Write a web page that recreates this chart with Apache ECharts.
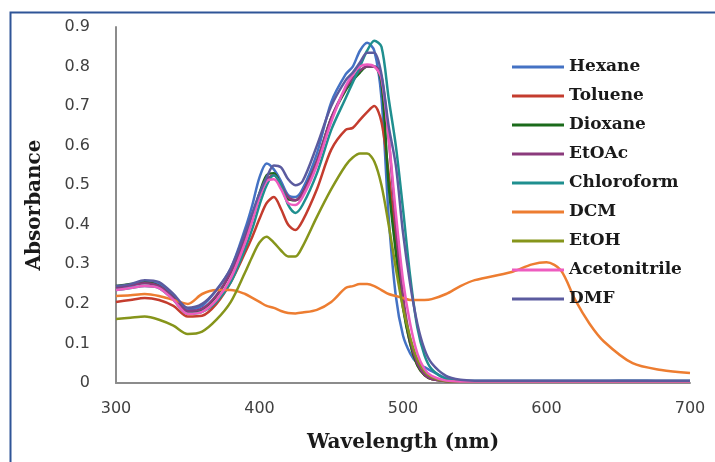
<!DOCTYPE html>
<html lang="en">
<head>
    <meta charset="UTF-8">
    <title>Absorbance spectra</title>
    <script src="https://cdn.jsdelivr.net/npm/echarts@6/dist/echarts.min.js"></script>
    <style>
        html, body { margin: 0; padding: 0; background: #fff; }
        #main { width: 715px; height: 462px; }
    </style>
</head>
<body>
    <div id="main"></div>
    <script>
        // wavelength grid (nm), shared by every solvent
        var wavelengths = [300, 310, 320, 330, 340, 350, 360, 370, 380, 390, 395, 400, 405, 410, 415, 420, 425, 430, 440, 450,
            460, 465, 470, 475, 480, 485, 490, 495, 500, 505, 510, 515, 520, 530, 540, 550, 575, 590, 600, 610,
            620, 630, 640, 660, 680, 700];

        var hexane = [0.240, 0.245, 0.255, 0.250, 0.220, 0.185, 0.195, 0.235, 0.290, 0.390, 0.450, 0.520, 0.555, 0.540, 0.510, 0.475, 0.470, 0.490, 0.580, 0.710,
            0.780, 0.800, 0.840, 0.860, 0.840, 0.720, 0.420, 0.220, 0.120, 0.075, 0.050, 0.040, 0.030, 0.012, 0.006, 0.005, 0.005, 0.005, 0.005, 0.005,
            0.005, 0.005, 0.005, 0.006, 0.005, 0.005];
        var toluene = [0.205, 0.210, 0.215, 0.210, 0.195, 0.168, 0.170, 0.200, 0.255, 0.330, 0.370, 0.415, 0.455, 0.470, 0.440, 0.400, 0.387, 0.410, 0.490, 0.590,
            0.640, 0.645, 0.665, 0.685, 0.700, 0.660, 0.530, 0.360, 0.200, 0.100, 0.045, 0.020, 0.010, 0.005, 0.004, 0.004, 0.004, 0.004, 0.004, 0.004,
            0.004, 0.004, 0.004, 0.004, 0.004, 0.004];
        var dioxane = [0.245, 0.250, 0.255, 0.245, 0.215, 0.180, 0.185, 0.220, 0.280, 0.370, 0.420, 0.480, 0.525, 0.530, 0.500, 0.465, 0.462, 0.480, 0.560, 0.670,
            0.740, 0.765, 0.785, 0.800, 0.800, 0.760, 0.500, 0.330, 0.190, 0.100, 0.045, 0.020, 0.010, 0.005, 0.004, 0.004, 0.004, 0.004, 0.004, 0.004,
            0.004, 0.004, 0.004, 0.004, 0.004, 0.004];
        var etoac = [0.240, 0.248, 0.252, 0.245, 0.215, 0.182, 0.188, 0.222, 0.280, 0.365, 0.415, 0.470, 0.515, 0.525, 0.500, 0.470, 0.462, 0.480, 0.560, 0.670,
            0.745, 0.770, 0.790, 0.800, 0.800, 0.775, 0.620, 0.400, 0.220, 0.110, 0.050, 0.022, 0.010, 0.005, 0.004, 0.004, 0.004, 0.004, 0.004, 0.004,
            0.004, 0.004, 0.004, 0.004, 0.004, 0.004];
        var chloroform = [0.235, 0.240, 0.245, 0.240, 0.210, 0.175, 0.180, 0.205, 0.255, 0.340, 0.390, 0.450, 0.500, 0.525, 0.500, 0.450, 0.430, 0.450, 0.530, 0.640,
            0.720, 0.760, 0.800, 0.840, 0.865, 0.850, 0.720, 0.600, 0.440, 0.270, 0.140, 0.070, 0.035, 0.010, 0.006, 0.005, 0.005, 0.005, 0.005, 0.005,
            0.005, 0.005, 0.005, 0.005, 0.005, 0.005];
        var dcm = [0.220, 0.222, 0.225, 0.220, 0.210, 0.200, 0.225, 0.235, 0.235, 0.225, 0.215, 0.205, 0.195, 0.190, 0.182, 0.177, 0.176, 0.178, 0.185, 0.205,
            0.240, 0.245, 0.250, 0.250, 0.245, 0.235, 0.225, 0.220, 0.215, 0.210, 0.210, 0.210, 0.212, 0.225, 0.245, 0.260, 0.280, 0.300, 0.305, 0.285,
            0.210, 0.150, 0.105, 0.050, 0.033, 0.025];
        var etoh = [0.162, 0.165, 0.168, 0.160, 0.145, 0.124, 0.130, 0.160, 0.205, 0.280, 0.320, 0.355, 0.370, 0.355, 0.335, 0.320, 0.320, 0.345, 0.420, 0.490,
            0.550, 0.570, 0.580, 0.580, 0.560, 0.500, 0.400, 0.290, 0.190, 0.115, 0.060, 0.030, 0.015, 0.005, 0.004, 0.004, 0.004, 0.004, 0.004, 0.004,
            0.004, 0.004, 0.004, 0.004, 0.004, 0.004];
        var acetonitrile = [0.235, 0.240, 0.245, 0.240, 0.210, 0.175, 0.180, 0.210, 0.265, 0.355, 0.410, 0.470, 0.510, 0.515, 0.490, 0.455, 0.450, 0.470, 0.550, 0.660,
            0.750, 0.780, 0.800, 0.805, 0.800, 0.770, 0.620, 0.430, 0.260, 0.150, 0.075, 0.035, 0.018, 0.006, 0.004, 0.004, 0.004, 0.004, 0.004, 0.004,
            0.004, 0.004, 0.004, 0.004, 0.004, 0.004];
        var dmf = [0.245, 0.250, 0.260, 0.255, 0.225, 0.190, 0.200, 0.235, 0.290, 0.380, 0.430, 0.480, 0.520, 0.550, 0.545, 0.515, 0.500, 0.510, 0.600, 0.700,
            0.765, 0.785, 0.810, 0.835, 0.835, 0.780, 0.650, 0.550, 0.380, 0.250, 0.150, 0.085, 0.050, 0.018, 0.008, 0.006, 0.006, 0.006, 0.006, 0.006,
            0.006, 0.006, 0.006, 0.006, 0.006, 0.006];

        var solventNames = ['Hexane', 'Toluene', 'Dioxane', 'EtOAc', 'Chloroform', 'DCM', 'EtOH', 'Acetonitrile', 'DMF'];
        var solventValues = [hexane, toluene, dioxane, etoac, chloroform, dcm, etoh, acetonitrile, dmf];
        var solventColors = ['#4472C4', '#C43C2E', '#1B6B1B', '#8B3A7C', '#1F8F8F', '#ED7D31', '#86951B', '#EE5CBF', '#5B5B9F'];

        var myChart = echarts.init(document.getElementById('main'));

        var series = solventNames.map(function (name, k) {
            return {
                name: name,
                type: 'line',
                smooth: 0.3,
                showSymbol: false,
                data: wavelengths.map(function (w, i) { return [w, solventValues[k][i]]; }),
                lineStyle: { width: 2.5, color: solventColors[k] },
                itemStyle: { color: solventColors[k] }
            };
        });

        var option = {
            animation: false,
            backgroundColor: '#fff',
            grid: { left: 116, top: 27, right: 25, bottom: 79 },
            graphic: [{
                type: 'rect',
                left: 8, top: 10,
                shape: { width: 730, height: 480 },
                style: { fill: 'none', stroke: '#2F5597', lineWidth: 2 },
                silent: true
            }],
            legend: {
                orient: 'vertical',
                left: 507,
                top: 52,
                icon: 'rect',
                itemWidth: 52,
                itemHeight: 3,
                itemGap: 9,
                textStyle: {
                    fontFamily: 'DejaVu Serif',
                    fontWeight: 'bold',
                    fontSize: 17,
                    lineHeight: 20,
                    color: '#1a1a1a'
                },
                data: solventNames
            },
            xAxis: {
                type: 'value',
                min: 300,
                max: 700,
                interval: 100,
                name: 'Wavelength (nm)',
                nameLocation: 'middle',
                nameGap: 50,
                nameTextStyle: { fontFamily: 'DejaVu Serif', fontWeight: 'bold', fontSize: 20, color: '#1a1a1a' },
                axisLine: { lineStyle: { color: '#8c8c8c', width: 2 } },
                axisTick: { show: false },
                axisLabel: { fontFamily: 'DejaVu Sans', fontSize: 16, color: '#404040', margin: 18 },
                splitLine: { show: false }
            },
            yAxis: {
                type: 'value',
                min: 0,
                max: 0.9,
                interval: 0.1,
                name: 'Absorbance',
                nameLocation: 'middle',
                nameGap: 71,
                nameTextStyle: { fontFamily: 'DejaVu Serif', fontWeight: 'bold', fontSize: 20, color: '#1a1a1a' },
                axisLine: { show: true, lineStyle: { color: '#8c8c8c', width: 2 } },
                axisTick: { show: false },
                axisLabel: { fontFamily: 'DejaVu Sans', fontSize: 16, color: '#404040', margin: 26 },
                splitLine: { show: false }
            },
            series: series
        };

        myChart.setOption(option);
    </script>
</body>
</html>
